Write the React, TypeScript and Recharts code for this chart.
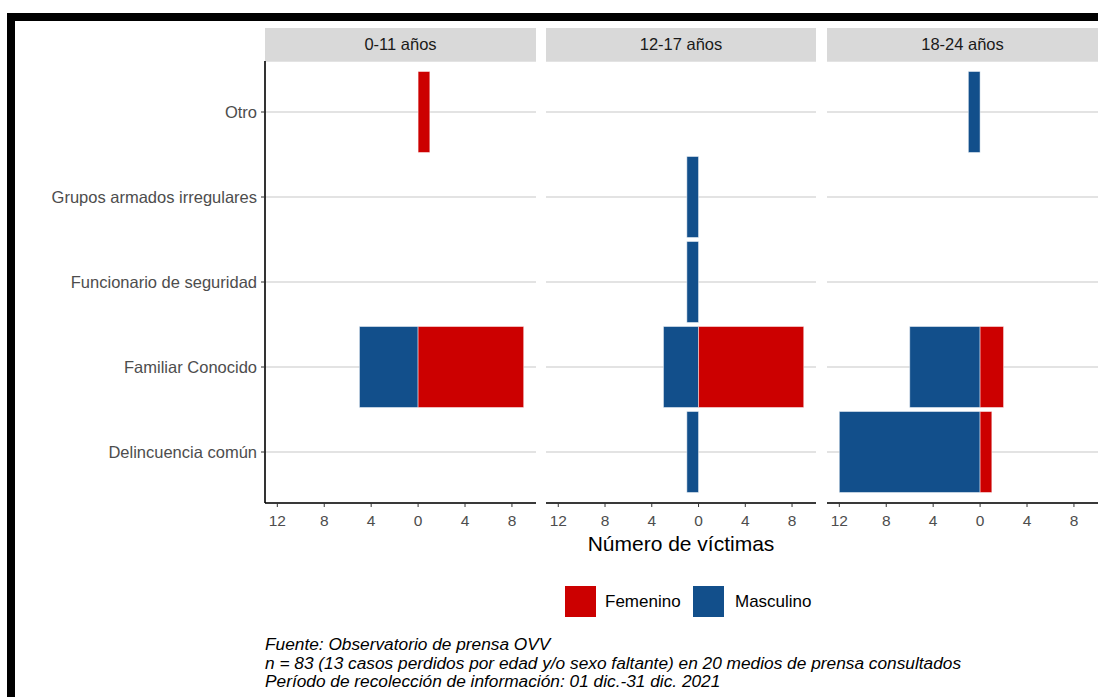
import React from 'react';
import { BarChart, Bar, XAxis, YAxis, CartesianGrid } from 'recharts';

const categories = [
  'Otro',
  'Grupos armados irregulares',
  'Funcionario de seguridad',
  'Familiar Conocido',
  'Delincuencia común',
];
const ageGroups = ['0-11 años', '12-17 años', '18-24 años'];

// victims per category, one array per age group and sex
const femenino0011 = [1, 0, 0, 9, 0];
const masculino0011 = [0, 0, 0, 5, 0];
const femenino1217 = [0, 0, 0, 9, 0];
const masculino1217 = [0, 1, 1, 3, 1];
const femenino1824 = [0, 0, 0, 2, 1];
const masculino1824 = [1, 0, 0, 6, 12];

const xTicks = [-12, -8, -4, 0, 4, 8];
const xDomain = [-13.05, 10.05];

const RED = '#CC0000';
const BLUE = '#124F8B';
const FONT = '"Liberation Sans", Arial, sans-serif';

const buildRows = (fem: number[], masc: number[]) =>
  categories.map((cat, i) => ({
    cat,
    fem: fem[i] ? fem[i] : null,
    masc: masc[i] ? -masc[i] : null,
  }));

const panelData = [
  buildRows(femenino0011, masculino0011),
  buildRows(femenino1217, masculino1217),
  buildRows(femenino1824, masculino1824),
];

const PLOT_TOP = 61;
const PLOT_H = 442;
const AXIS_H = 30;

const panels = [
  { left: 0, width: 536, axisW: 265, stripLeft: 265, stripW: 271 },
  { left: 546, width: 270, axisW: 0, stripLeft: 546, stripW: 270 },
  { left: 827, width: 271, axisW: 0, stripLeft: 827, stripW: 271 },
];

const Panel: React.FC<{ idx: number }> = ({ idx }) => {
  const p = panels[idx];
  const showY = idx === 0;
  return (
    <div style={{ position: 'absolute', left: p.left, top: PLOT_TOP }}>
      <BarChart
        width={p.width}
        height={PLOT_H + AXIS_H}
        data={panelData[idx]}
        layout="vertical"
        stackOffset="sign"
        margin={{ top: 0, right: 0, bottom: 0, left: 0 }}
        barSize={81}
      >
        <CartesianGrid horizontal vertical={false} stroke="#c8c8c8" strokeWidth={1.2} />
        <XAxis
          type="number"
          domain={xDomain}
          ticks={xTicks}
          allowDataOverflow
          height={AXIS_H}
          tickFormatter={(v: number) => String(Math.abs(v))}
          tick={{ fill: '#4d4d4d', fontSize: 15.5, fontFamily: FONT }}
          tickSize={4}
          tickMargin={8}
          tickLine={{ stroke: '#333333' }}
          axisLine={{ stroke: '#000000', strokeWidth: 1.6 }}
        />
        <YAxis
          type="category"
          dataKey="cat"
          hide={!showY}
          width={p.axisW}
          padding={{ top: 8.5, bottom: 8.5 }}
          tick={{ fill: '#4d4d4d', fontSize: 16.5, fontFamily: FONT }}
          tickSize={4}
          tickMargin={4}
          tickLine={{ stroke: '#333333' }}
          axisLine={{ stroke: '#000000', strokeWidth: 1.6 }}
        />
        <Bar dataKey="masc" stackId="s" fill={BLUE} stroke="#ffffff" strokeOpacity={0.6} strokeWidth={0.8} isAnimationActive={false} />
        <Bar dataKey="fem" stackId="s" fill={RED} stroke="#ffffff" strokeOpacity={0.6} strokeWidth={0.8} isAnimationActive={false} />
      </BarChart>
    </div>
  );
};

const App: React.FC = () => {
  return (
    <div
      style={{
        position: 'absolute',
        left: 0,
        top: 0,
        width: 1098,
        height: 697,
        background: '#ffffff',
        overflow: 'hidden',
        fontFamily: FONT,
      }}
    >
      {/* frame */}
      <div
        style={{
          position: 'absolute',
          left: 7,
          top: 13,
          width: 1200,
          height: 800,
          borderTop: '8px solid #000',
          borderLeft: '8px solid #000',
        }}
      />
      {/* strips */}
      {panels.map((p, i) => (
        <div
          key={ageGroups[i]}
          style={{
            position: 'absolute',
            left: p.stripLeft,
            top: 28,
            width: p.stripW,
            height: 33,
            background: '#d9d9d9',
            color: '#1a1a1a',
            fontSize: 16.5,
            lineHeight: '33px',
            textAlign: 'center',
          }}
        >
          {ageGroups[i]}
        </div>
      ))}
      {panels.map((_, i) => (
        <Panel key={i} idx={i} />
      ))}
      {/* x title */}
      <div
        style={{
          position: 'absolute',
          left: 265,
          width: 832,
          top: 530,
          textAlign: 'center',
          fontSize: 21,
          lineHeight: '28px',
          color: '#000',
        }}
      >
        Número de víctimas
      </div>
      {/* legend */}
      <div style={{ position: 'absolute', left: 565, top: 586, width: 31, height: 31, background: RED }} />
      <div style={{ position: 'absolute', left: 605, top: 586, lineHeight: '31px', fontSize: 17, color: '#000' }}>
        Femenino
      </div>
      <div style={{ position: 'absolute', left: 693, top: 586, width: 31, height: 31, background: BLUE }} />
      <div style={{ position: 'absolute', left: 735, top: 586, lineHeight: '31px', fontSize: 17, color: '#000' }}>
        Masculino
      </div>
      {/* caption */}
      <div
        style={{
          position: 'absolute',
          left: 265,
          top: 635,
          fontSize: 17.3,
          lineHeight: '18.6px',
          fontStyle: 'italic',
          color: '#000',
          whiteSpace: 'nowrap',
        }}
      >
        <div>Fuente: Observatorio de prensa OVV</div>
        <div>n = 83 (13 casos perdidos por edad y/o sexo faltante) en 20 medios de prensa consultados</div>
        <div>Período de recolección de información: 01 dic.-31 dic. 2021</div>
      </div>
    </div>
  );
};

export default App;
